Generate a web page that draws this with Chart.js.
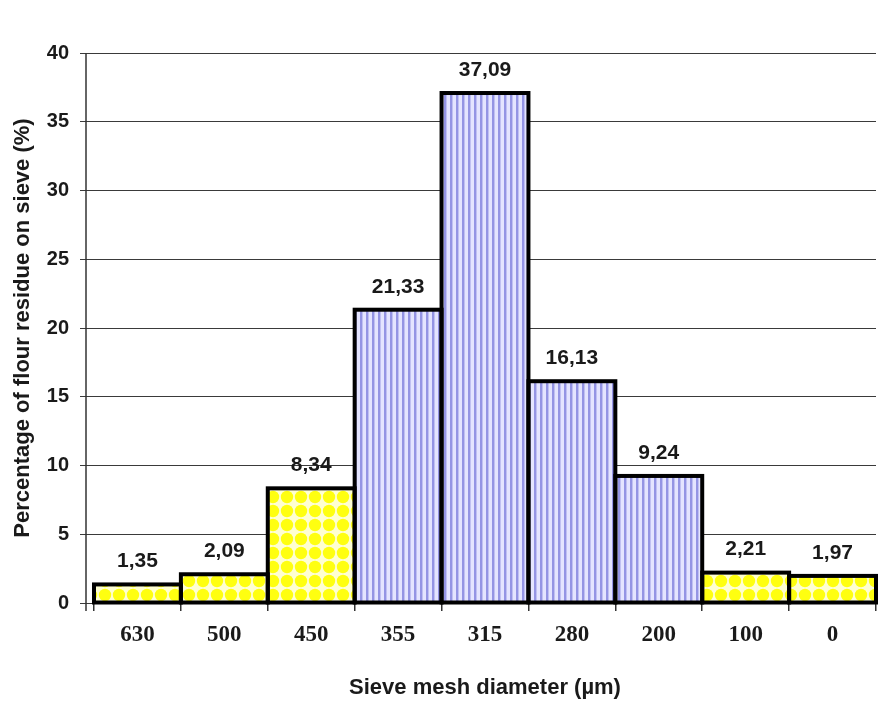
<!DOCTYPE html>
<html>
<head>
<meta charset="utf-8">
<script src="https://cdn.jsdelivr.net/npm/chart.js@4.4.1/dist/chart.umd.min.js"></script>
<style>
  html, body { margin: 0; padding: 0; background: #fff; }
  canvas { display: block; }
</style>
</head>
<body>
<canvas id="sieveChart" width="896" height="708"></canvas>
<script>
// Sieve analysis: % of flour left on each sieve
const meshSizes = ['630', '500', '450', '355', '315', '280', '200', '100', '0'];
const residuePct = [1.35, 2.09, 8.34, 21.33, 37.09, 16.13, 9.24, 2.21, 1.97];
// the middle fractions are hatched blue, the rest dotted yellow
const stripedMeshes = ['355', '315', '280', '200'];

const SANS = '"Liberation Sans", Arial, sans-serif';
const SERIF = '"Liberation Serif", "Times New Roman", serif';

const canvas = document.getElementById('sieveChart');
const ctx0 = canvas.getContext('2d');

function makeDots() {
  const t = document.createElement('canvas');
  t.width = 14; t.height = 14;
  const g = t.getContext('2d');
  g.fillStyle = '#ffffd2';
  g.fillRect(0, 0, 14, 14);
  g.fillStyle = '#ffff10';
  g.beginPath();
  g.arc(7, 7, 6.2, 0, Math.PI * 2);
  g.fill();
  return ctx0.createPattern(t, 'repeat');
}

function makeStripes() {
  const t = document.createElement('canvas');
  t.width = 6; t.height = 6;
  const g = t.getContext('2d');
  g.fillStyle = '#e4e4ff';
  g.fillRect(0, 0, 6, 6);
  g.fillStyle = '#9494e4';
  g.fillRect(0, 0, 2, 6);
  g.fillStyle = '#c0c0f2';
  g.fillRect(2, 0, 1, 6);
  return ctx0.createPattern(t, 'repeat');
}

const dots = makeDots();
const stripes = makeStripes();

// Excel-style outline: stroke centred on the bar edges so neighbours share one line
const barOutline = {
  id: 'bar-outline',
  afterDatasetsDraw(chart) {
    const ctx = chart.ctx;
    ctx.save();
    ctx.strokeStyle = '#000';
    ctx.lineWidth = 4;
    chart.getDatasetMeta(0).data.forEach(bar => {
      const { x, y, base, width } = bar.getProps(['x', 'y', 'base', 'width'], true);
      ctx.strokeRect(x - width / 2, y, width, base - y);
    });
    ctx.restore();
  },
};

// value labels above each bar, decimal comma
const valueLabels = {
  id: 'value-labels',
  afterDatasetsDraw(chart) {
    const ctx = chart.ctx;
    ctx.save();
    ctx.font = 'bold 21px ' + SANS;
    ctx.fillStyle = '#1a1a1a';
    ctx.textAlign = 'center';
    ctx.textBaseline = 'middle';
    chart.getDatasetMeta(0).data.forEach((bar, i) => {
      const txt = residuePct[i].toFixed(2).replace('.', ',');
      ctx.fillText(txt, bar.x, bar.y - 23);
    });
    ctx.restore();
  },
};

// the y axis line sits a few px left of the first bar
const yAxisLine = {
  id: 'y-axis-line',
  beforeDatasetsDraw(chart) {
    const { ctx, chartArea } = chart;
    const x = chartArea.left - 8;
    ctx.save();
    ctx.strokeStyle = '#333';
    ctx.lineWidth = 1.5;
    ctx.beginPath();
    ctx.moveTo(x, chartArea.top);
    ctx.lineTo(x, chartArea.bottom + 8);
    ctx.stroke();
    ctx.restore();
  },
};

new Chart(canvas, {
  type: 'bar',
  data: {
    labels: meshSizes,
    datasets: [{
      data: residuePct,
      backgroundColor: meshSizes.map(m => stripedMeshes.includes(m) ? stripes : dots),
      borderWidth: 0,
      barPercentage: 1,
      categoryPercentage: 1,
    }],
  },
  options: {
    responsive: false,
    animation: false,
    layout: { padding: { top: 53, right: 20, left: 0, bottom: 0 } },
    scales: {
      x: {
        afterFit: s => { s.height = 105; },
        grid: { drawOnChartArea: false, drawTicks: true, tickLength: 8, color: '#333', lineWidth: 1.5 },
        border: { display: true, color: '#333', width: 1.5 },
        ticks: { color: '#1a1a1a', font: { family: SERIF, size: 23, weight: 'bold' }, padding: 10 },
        title: {
          display: true,
          text: 'Sieve mesh diameter (µm)',
          color: '#1a1a1a',
          font: { family: SANS, size: 22, weight: 'bold' },
          padding: { top: 0, bottom: 7 },
        },
      },
      y: {
        min: 0,
        max: 40,
        afterFit: s => { s.width = 94; },
        grid: { color: '#3a3a3a', lineWidth: 1, tickLength: 14, drawTicks: true },
        border: { display: false },
        ticks: { stepSize: 5, color: '#1a1a1a', font: { family: SANS, size: 20, weight: 'bold' }, padding: 11 },
        title: {
          display: true,
          text: 'Percentage of flour residue on sieve (%)',
          color: '#1a1a1a',
          font: { family: SANS, size: 22, weight: 'bold' },
          padding: { top: 10, bottom: 0 },
        },
      },
    },
    plugins: {
      legend: { display: false },
      tooltip: { enabled: false },
    },
  },
  plugins: [yAxisLine, barOutline, valueLabels],
});
</script>
</body>
</html>
